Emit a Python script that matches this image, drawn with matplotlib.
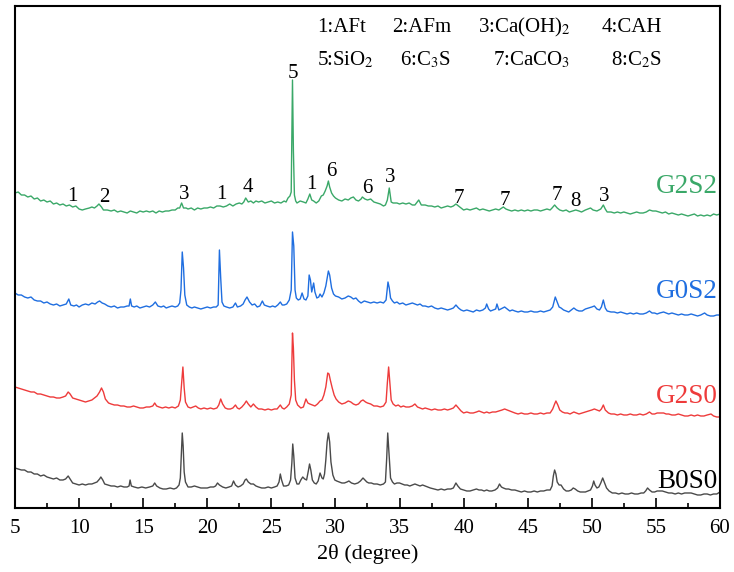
import matplotlib
matplotlib.use("Agg")
import matplotlib.pyplot as plt
from matplotlib.ticker import MultipleLocator

plt.rcParams['font.family'] = ['Liberation Serif', 'DejaVu Serif']
plt.rcParams['mathtext.fontset'] = 'stix'

# (2theta, stacked intensity a.u.)
g2s2 = [(5.0, 315), (5.25, 316), (5.5, 313), (5.75, 313), (6.0, 311), (6.25, 312), (6.5, 309),
        (6.75, 310), (7.0, 307), (7.25, 308), (7.5, 306), (7.75, 307), (8.0, 304), (8.25, 305),
        (8.5, 303), (8.75, 304), (9.0, 302), (9.25, 303), (9.5, 301), (9.75, 302), (10.0, 299),
        (10.25, 298), (10.5, 299), (10.8, 300), (11.0, 301), (11.2, 300), (11.4, 302), (11.55, 304),
        (11.75, 301), (11.9, 298), (12.2, 298), (12.5, 297), (12.75, 298), (13.0, 296), (13.25, 297),
        (13.5, 296), (13.75, 295), (14.0, 297), (14.25, 296), (14.5, 295), (14.75, 297), (15.0, 296),
        (15.25, 297), (15.5, 296), (15.75, 297), (16.0, 295), (16.25, 297), (16.5, 296), (16.75, 297),
        (17.0, 297), (17.25, 298), (17.5, 298), (17.7, 300), (17.85, 300), (18.0, 305), (18.15, 300),
        (18.35, 300), (18.5, 299), (18.75, 300), (19.0, 298), (19.25, 300), (19.5, 299), (19.75, 300),
        (20.0, 300), (20.25, 301), (20.5, 300), (20.75, 302), (21.0, 302), (21.25, 301), (21.5, 302),
        (21.75, 304), (22.0, 302), (22.25, 304), (22.5, 305), (22.7, 304), (22.85, 306), (23.0, 310),
        (23.2, 306), (23.4, 307), (23.6, 305), (23.8, 307), (24.0, 306), (24.25, 307), (24.5, 305),
        (24.75, 306), (25.0, 307), (25.25, 305), (25.5, 306), (25.75, 305), (26.0, 307), (26.15, 306),
        (26.3, 310), (26.45, 312), (26.55, 316), (26.65, 428), (26.72, 358), (26.8, 313), (26.9, 307),
        (27.0, 305), (27.25, 307), (27.5, 306), (27.7, 305), (27.85, 309), (28.0, 314), (28.15, 308),
        (28.3, 307), (28.5, 305), (28.7, 307), (28.9, 312), (29.05, 313), (29.2, 317), (29.35, 322),
        (29.45, 327), (29.55, 321), (29.7, 315), (29.85, 312), (30.0, 310), (30.25, 308), (30.5, 307),
        (30.75, 309), (31.0, 308), (31.2, 310), (31.4, 311), (31.6, 308), (31.8, 307), (32.0, 309),
        (32.1, 311), (32.3, 309), (32.5, 308), (32.75, 309), (33.0, 306), (33.25, 305), (33.5, 304),
        (33.75, 302), (33.9, 303), (34.05, 308), (34.2, 320), (34.35, 306), (34.5, 305), (34.8, 305),
        (35.0, 304), (35.25, 305), (35.5, 304), (35.75, 305), (36.0, 303), (36.2, 303), (36.5, 308),
        (36.7, 303), (37.0, 303), (37.25, 302), (37.5, 302), (37.75, 301), (38.0, 302), (38.25, 300),
        (38.5, 301), (38.75, 302), (39.0, 301), (39.2, 302), (39.4, 304), (39.6, 302), (39.8, 300),
        (40.0, 298), (40.25, 299), (40.5, 298), (40.75, 299), (41.0, 300), (41.25, 298), (41.5, 299),
        (41.75, 298), (42.0, 297), (42.25, 298), (42.5, 299), (42.75, 298), (43.1, 301), (43.3, 299),
        (43.5, 298), (43.75, 297), (44.0, 298), (44.25, 297), (44.5, 298), (44.75, 297), (45.0, 298),
        (45.25, 297), (45.5, 298), (45.75, 298), (46.0, 297), (46.25, 298), (46.5, 299), (46.75, 298),
        (46.9, 300), (47.1, 303), (47.3, 300), (47.5, 298), (47.75, 297), (48.0, 298), (48.25, 296),
        (48.5, 297), (48.75, 298), (49.0, 297), (49.2, 296), (49.5, 298), (49.7, 299), (49.9, 300),
        (50.1, 298), (50.4, 297), (50.7, 299), (50.9, 303), (51.05, 299), (51.2, 296), (51.5, 296),
        (51.75, 295), (52.0, 296), (52.25, 295), (52.5, 296), (52.75, 295), (53.0, 294), (53.25, 295),
        (53.5, 296), (53.75, 295), (54.0, 295), (54.25, 296), (54.5, 298), (54.75, 297), (55.0, 297),
        (55.25, 296), (55.5, 295), (55.75, 296), (56.0, 294), (56.25, 295), (56.5, 294), (56.75, 293),
        (57.0, 294), (57.25, 293), (57.5, 292), (57.75, 293), (58.0, 294), (58.25, 292), (58.5, 293),
        (58.75, 292), (59.0, 293), (59.25, 292), (59.5, 294), (59.75, 293), (60.0, 294)]

g0s2 = [(5.0, 215), (5.25, 213), (5.5, 213), (5.75, 211), (6.0, 210), (6.25, 211), (6.5, 208),
        (6.75, 207), (7.0, 207), (7.25, 205), (7.5, 206), (7.75, 204), (8.0, 203), (8.25, 204),
        (8.5, 202), (8.75, 203), (9.0, 204), (9.2, 209), (9.35, 203), (9.6, 202), (9.8, 203),
        (10.0, 201), (10.25, 203), (10.5, 204), (10.75, 203), (11.0, 205), (11.25, 204), (11.45, 206),
        (11.6, 207), (11.8, 205), (12.0, 204), (12.25, 202), (12.5, 201), (12.75, 202), (13.0, 200),
        (13.25, 201), (13.5, 201), (13.75, 202), (13.9, 202), (14.0, 209), (14.1, 202), (14.3, 201),
        (14.5, 202), (14.75, 200), (15.0, 201), (15.25, 202), (15.5, 201), (15.75, 203), (15.95, 206),
        (16.15, 202), (16.4, 201), (16.6, 202), (16.8, 200), (17.0, 201), (17.25, 202), (17.5, 201),
        (17.7, 202), (17.85, 205), (17.95, 218), (18.05, 256), (18.15, 240), (18.25, 213), (18.4, 203),
        (18.6, 201), (18.8, 200), (19.0, 201), (19.25, 200), (19.5, 199), (19.75, 200), (20.0, 201),
        (20.25, 200), (20.5, 201), (20.7, 201), (20.85, 203), (20.95, 258), (21.05, 230), (21.15, 206),
        (21.3, 202), (21.5, 201), (21.75, 200), (22.0, 201), (22.2, 205), (22.35, 201), (22.6, 202),
        (22.8, 204), (22.95, 208), (23.1, 211), (23.3, 206), (23.5, 203), (23.7, 204), (23.9, 201),
        (24.1, 202), (24.3, 207), (24.45, 203), (24.65, 202), (24.9, 201), (25.1, 202), (25.3, 201),
        (25.5, 203), (25.7, 206), (25.85, 203), (26.0, 203), (26.2, 204), (26.4, 208), (26.55, 218),
        (26.65, 276), (26.75, 262), (26.85, 218), (26.95, 210), (27.1, 208), (27.25, 209), (27.4, 215),
        (27.55, 209), (27.7, 208), (27.85, 212), (27.95, 233), (28.05, 228), (28.15, 216), (28.3, 225),
        (28.4, 216), (28.55, 210), (28.7, 211), (28.8, 214), (28.95, 211), (29.1, 215), (29.25, 222),
        (29.45, 237), (29.55, 233), (29.7, 220), (29.85, 214), (30.0, 212), (30.25, 211), (30.5, 209),
        (30.75, 210), (31.0, 212), (31.2, 211), (31.4, 209), (31.6, 210), (31.8, 207), (32.0, 205),
        (32.25, 207), (32.5, 206), (32.75, 205), (33.0, 206), (33.25, 205), (33.5, 206), (33.75, 205),
        (33.95, 208), (34.1, 226), (34.2, 220), (34.3, 210), (34.45, 207), (34.6, 205), (34.8, 206),
        (35.0, 204), (35.25, 205), (35.5, 203), (35.75, 204), (36.0, 205), (36.2, 204), (36.4, 203),
        (36.6, 204), (36.8, 202), (37.0, 202), (37.25, 201), (37.5, 202), (37.75, 200), (38.0, 199),
        (38.25, 200), (38.5, 199), (38.75, 198), (39.0, 199), (39.2, 200), (39.4, 203), (39.6, 200),
        (39.8, 198), (40.0, 197), (40.25, 198), (40.5, 197), (40.75, 196), (41.0, 198), (41.25, 197),
        (41.5, 198), (41.7, 200), (41.8, 204), (41.95, 199), (42.1, 197), (42.3, 198), (42.5, 199),
        (42.6, 204), (42.75, 198), (42.9, 199), (43.05, 200), (43.2, 201), (43.4, 199), (43.6, 197),
        (43.8, 198), (44.0, 197), (44.25, 196), (44.5, 197), (44.75, 196), (45.0, 196), (45.25, 197),
        (45.5, 196), (45.75, 196), (46.0, 197), (46.25, 196), (46.5, 197), (46.75, 198), (46.95, 201),
        (47.15, 211), (47.3, 206), (47.45, 201), (47.6, 200), (47.8, 198), (48.0, 197), (48.2, 196),
        (48.4, 198), (48.6, 200), (48.8, 198), (49.0, 197), (49.25, 197), (49.5, 199), (49.75, 200),
        (50.0, 201), (50.2, 202), (50.4, 199), (50.6, 198), (50.75, 201), (50.9, 208), (51.05, 200),
        (51.2, 197), (51.5, 196), (51.75, 196), (52.0, 195), (52.25, 196), (52.5, 195), (52.75, 194),
        (53.0, 195), (53.25, 194), (53.5, 195), (53.75, 194), (54.0, 194), (54.25, 195), (54.5, 197),
        (54.7, 195), (54.9, 195), (55.1, 194), (55.3, 195), (55.6, 196), (55.8, 195), (56.0, 194),
        (56.25, 195), (56.5, 194), (56.75, 193), (57.0, 194), (57.25, 193), (57.5, 193), (57.75, 194),
        (58.0, 193), (58.25, 192), (58.5, 193), (58.8, 195), (59.0, 193), (59.25, 192), (59.5, 192),
        (59.75, 193), (60.0, 193)]

g2s0 = [(5.0, 121), (5.25, 120), (5.5, 119), (5.75, 118), (6.0, 117), (6.25, 116), (6.5, 116),
        (6.75, 114), (7.0, 114), (7.25, 113), (7.5, 112), (7.75, 111), (8.0, 111), (8.25, 110),
        (8.5, 110), (8.75, 111), (8.95, 112), (9.15, 116), (9.3, 114), (9.5, 110), (9.75, 109),
        (10.0, 108), (10.25, 107), (10.5, 106), (10.75, 107), (11.0, 108), (11.2, 110), (11.4, 112),
        (11.6, 116), (11.75, 120), (11.9, 116), (12.05, 109), (12.3, 105), (12.5, 104), (12.75, 103),
        (13.0, 103), (13.25, 102), (13.5, 102), (13.75, 101), (14.0, 101), (14.25, 102), (14.5, 101),
        (14.75, 100), (15.0, 100), (15.25, 101), (15.5, 101), (15.75, 102), (15.9, 105), (16.05, 102),
        (16.25, 101), (16.5, 100), (16.75, 101), (17.0, 100), (17.25, 101), (17.5, 100), (17.75, 102),
        (17.9, 108), (18.0, 125), (18.1, 141), (18.2, 120), (18.3, 106), (18.5, 101), (18.7, 100),
        (18.9, 101), (19.1, 102), (19.3, 100), (19.5, 99), (19.75, 100), (20.0, 99), (20.25, 100),
        (20.5, 99), (20.75, 100), (20.9, 103), (21.05, 109), (21.2, 104), (21.4, 100), (21.6, 99),
        (21.8, 99), (22.0, 100), (22.2, 103), (22.35, 100), (22.5, 99), (22.7, 101), (22.9, 104),
        (23.05, 107), (23.2, 104), (23.4, 101), (23.6, 104), (23.8, 101), (24.0, 99), (24.25, 99),
        (24.5, 98), (24.75, 99), (25.0, 98), (25.25, 99), (25.45, 99), (25.7, 103), (25.85, 100),
        (26.0, 99), (26.2, 101), (26.4, 104), (26.55, 113), (26.65, 175), (26.72, 160), (26.8, 128),
        (26.9, 108), (27.05, 103), (27.3, 100), (27.5, 101), (27.7, 109), (27.85, 105), (28.0, 104),
        (28.2, 103), (28.4, 102), (28.6, 104), (28.8, 107), (28.95, 108), (29.1, 113), (29.25, 121),
        (29.4, 135), (29.5, 134), (29.6, 128), (29.75, 120), (29.9, 113), (30.05, 109), (30.25, 106),
        (30.5, 104), (30.75, 105), (31.0, 107), (31.2, 106), (31.4, 104), (31.6, 103), (31.8, 104),
        (32.0, 107), (32.15, 108), (32.35, 106), (32.5, 105), (32.75, 104), (33.0, 102), (33.25, 102),
        (33.5, 101), (33.75, 102), (33.95, 106), (34.05, 125), (34.15, 141), (34.25, 125), (34.35, 108),
        (34.5, 104), (34.7, 102), (34.9, 103), (35.1, 101), (35.3, 102), (35.5, 101), (35.75, 101),
        (36.0, 102), (36.2, 104), (36.4, 101), (36.6, 100), (36.8, 99), (37.0, 100), (37.25, 99),
        (37.5, 98), (37.75, 99), (38.0, 98), (38.25, 98), (38.5, 99), (38.75, 98), (39.0, 99),
        (39.2, 100), (39.4, 103), (39.6, 100), (39.8, 97), (40.0, 95), (40.25, 96), (40.5, 95),
        (40.75, 95), (41.0, 96), (41.2, 97), (41.4, 96), (41.6, 95), (41.8, 96), (42.0, 95),
        (42.25, 96), (42.5, 96), (42.75, 97), (43.0, 98), (43.2, 99), (43.4, 98), (43.6, 97),
        (43.8, 96), (44.0, 95), (44.25, 94), (44.5, 95), (44.75, 94), (45.0, 94), (45.25, 95),
        (45.5, 94), (45.75, 94), (46.0, 95), (46.25, 94), (46.5, 95), (46.75, 95), (46.95, 99),
        (47.1, 104), (47.2, 107), (47.35, 103), (47.5, 98), (47.7, 96), (47.9, 95), (48.1, 95),
        (48.3, 94), (48.6, 96), (48.8, 95), (49.0, 94), (49.25, 95), (49.5, 96), (49.75, 97),
        (50.0, 98), (50.2, 99), (50.4, 98), (50.6, 97), (50.75, 99), (50.9, 103), (51.05, 98),
        (51.3, 95), (51.5, 94), (51.75, 94), (52.0, 93), (52.25, 94), (52.5, 93), (52.75, 93),
        (53.0, 94), (53.25, 93), (53.5, 93), (53.75, 94), (54.0, 93), (54.25, 94), (54.5, 96),
        (54.7, 94), (54.9, 94), (55.1, 95), (55.3, 95), (55.6, 95), (55.8, 94), (56.0, 94),
        (56.25, 93), (56.5, 93), (56.75, 94), (57.0, 93), (57.25, 92), (57.5, 92), (57.75, 93),
        (58.0, 92), (58.25, 93), (58.5, 92), (58.75, 92), (59.0, 93), (59.3, 94), (59.5, 92),
        (59.75, 91), (60.0, 91)]

b0s0 = [(5.0, 40), (5.25, 39), (5.5, 38), (5.75, 38), (6.0, 36), (6.25, 36), (6.5, 34), (6.75, 34),
        (7.0, 32), (7.25, 33), (7.5, 31), (7.75, 30), (8.0, 29), (8.25, 30), (8.5, 28), (8.75, 28),
        (8.95, 29), (9.15, 32), (9.3, 29), (9.5, 25), (9.75, 24), (10.0, 23), (10.25, 24), (10.5, 23),
        (10.75, 24), (11.0, 24), (11.2, 25), (11.4, 26), (11.6, 29), (11.7, 31), (11.85, 28), (12.0, 24),
        (12.25, 23), (12.5, 22), (12.75, 22), (13.0, 21), (13.25, 22), (13.5, 21), (13.75, 21),
        (13.9, 22), (13.98, 28), (14.08, 22), (14.3, 21), (14.6, 20), (14.9, 21), (15.2, 20),
        (15.5, 21), (15.75, 22), (15.9, 25), (16.05, 22), (16.3, 20), (16.55, 19), (16.8, 19),
        (17.1, 20), (17.4, 19), (17.6, 20), (17.8, 23), (17.9, 30), (18.0, 60), (18.05, 75),
        (18.12, 62), (18.2, 36), (18.3, 26), (18.5, 21), (18.75, 21), (19.0, 22), (19.25, 21),
        (19.5, 20), (19.75, 20), (20.0, 20), (20.25, 21), (20.5, 21), (20.65, 22), (20.8, 25),
        (20.95, 23), (21.2, 21), (21.45, 20), (21.7, 21), (21.9, 22), (22.05, 27), (22.2, 23),
        (22.4, 21), (22.6, 22), (22.8, 24), (22.95, 28), (23.05, 29), (23.2, 26), (23.4, 24),
        (23.6, 24), (23.8, 22), (24.0, 21), (24.25, 20), (24.5, 20), (24.75, 21), (25.0, 20),
        (25.25, 21), (25.45, 22), (25.6, 26), (25.7, 34), (25.8, 28), (25.95, 22), (26.15, 22),
        (26.35, 23), (26.5, 28), (26.6, 45), (26.67, 64), (26.75, 52), (26.85, 30), (27.0, 24),
        (27.15, 24), (27.3, 28), (27.45, 31), (27.6, 29), (27.75, 28), (27.9, 38), (27.98, 44),
        (28.08, 38), (28.2, 28), (28.35, 25), (28.5, 24), (28.65, 27), (28.8, 35), (28.95, 30),
        (29.05, 29), (29.15, 34), (29.25, 48), (29.35, 66), (29.45, 75), (29.55, 66), (29.65, 46),
        (29.8, 33), (29.95, 28), (30.1, 27), (30.3, 26), (30.5, 25), (30.7, 25), (30.9, 26),
        (31.05, 27), (31.25, 25), (31.5, 24), (31.75, 25), (31.95, 27), (32.15, 30), (32.3, 28),
        (32.45, 26), (32.6, 25), (32.8, 25), (33.0, 24), (33.25, 24), (33.5, 23), (33.75, 24),
        (33.9, 26), (34.0, 50), (34.08, 75), (34.18, 55), (34.3, 30), (34.45, 26), (34.6, 24),
        (34.8, 25), (35.0, 25), (35.2, 24), (35.4, 23), (35.6, 23), (35.8, 22), (36.0, 23),
        (36.2, 24), (36.4, 23), (36.6, 22), (36.8, 23), (37.0, 22), (37.2, 21), (37.4, 20),
        (37.7, 19), (38.0, 18), (38.25, 19), (38.5, 18), (38.75, 19), (39.0, 19), (39.2, 20),
        (39.4, 25), (39.55, 22), (39.75, 19), (40.0, 18), (40.25, 17), (40.5, 17), (40.75, 18),
        (41.0, 19), (41.2, 18), (41.4, 18), (41.6, 17), (41.8, 18), (42.0, 17), (42.2, 17),
        (42.45, 18), (42.65, 20), (42.8, 24), (42.95, 21), (43.1, 20), (43.3, 19), (43.5, 19),
        (43.75, 18), (44.0, 18), (44.25, 17), (44.5, 16), (44.75, 17), (45.0, 16), (45.25, 16),
        (45.5, 17), (45.75, 16), (46.0, 17), (46.25, 17), (46.5, 18), (46.75, 18), (46.9, 22),
        (47.0, 32), (47.1, 38), (47.2, 34), (47.3, 26), (47.45, 23), (47.6, 23), (47.8, 19),
        (48.0, 17), (48.2, 17), (48.4, 18), (48.55, 20), (48.7, 19), (48.9, 17), (49.1, 16),
        (49.3, 16), (49.5, 16), (49.7, 17), (49.9, 18), (50.05, 22), (50.15, 27), (50.25, 23),
        (50.4, 20), (50.55, 21), (50.7, 25), (50.85, 30), (51.0, 25), (51.15, 20), (51.35, 17),
        (51.6, 15), (51.85, 15), (52.1, 14), (52.35, 15), (52.6, 14), (52.85, 14), (53.1, 15),
        (53.35, 14), (53.6, 14), (53.85, 15), (54.05, 15), (54.2, 17), (54.35, 20), (54.5, 18),
        (54.7, 16), (54.9, 16), (55.1, 17), (55.3, 17), (55.5, 17), (55.75, 16), (56.0, 15),
        (56.25, 15), (56.5, 14), (56.75, 15), (57.0, 14), (57.25, 15), (57.5, 15), (57.75, 15),
        (58.0, 14), (58.25, 13), (58.5, 13), (58.75, 14), (59.0, 14), (59.25, 13), (59.5, 14),
        (59.75, 14), (60.0, 16)]

samples = ['B0S0', 'G2S0', 'G0S2', 'G2S2']
label_y = [26, 111, 216, 322]

phases = [['1:AFt', '2:AFm', '3:Ca(OH)$_2$', '4:CAH'],
          ['5:SiO$_2$', '6:C$_3$S', '7:CaCO$_3$', '8:C$_2$S']]
phase_x = [[28.55, 34.45, 41.1, 50.8],
           [28.55, 35.0, 42.3, 51.5]]
phase_y = [481, 448]

peak_num = ['1', '2', '3', '1', '4', '5', '1', '6', '6', '3', '7', '7', '7', '8', '3']
peak_x = [9.45, 11.94, 18.18, 21.07, 23.17, 26.68, 28.09, 29.65, 32.46, 34.25,
          39.63, 43.22, 47.28, 48.76, 50.94]
peak_y = [312, 311, 314, 314, 321, 435, 324, 337, 320, 331, 310, 308, 313, 307, 312]

colors = ['#4a4a4a', '#ee3b3b', '#1f6ee0', '#3aa868']
label_colors = ['black', '#ee3b3b', '#1f6ee0', '#3aa868']

fig = plt.figure(figsize=(7.34, 5.72), dpi=100)
ax = fig.add_axes([0.0204, 0.1119, 0.9605, 0.8776])

for data, c in zip([b0s0, g2s0, g0s2, g2s2], colors):
    xs, ys = zip(*data)
    ax.plot(xs, ys, color=c, lw=1.0)

for name, ly, c in zip(samples, label_y, label_colors):
    ax.text(59.8, ly, name, color=c, fontsize=19.5, ha='right', va='center')

for row, xs, py in zip(phases, phase_x, phase_y):
    for txt, px in zip(row, xs):
        ax.text(px, py, txt, fontsize=15, ha='left', va='center')

for t, px, py in zip(peak_num, peak_x, peak_y):
    ax.text(px, py, t, fontsize=15, ha='center', va='center')

ax.set_xlim(5, 60)
ax.set_ylim(0, 502)
ax.set_yticks([])
ax.xaxis.set_major_locator(MultipleLocator(5))
ax.xaxis.set_minor_locator(MultipleLocator(2.5))
ax.tick_params(axis='x', which='major', direction='in', length=7, width=1.2, labelsize=15, pad=8)
ax.tick_params(axis='x', which='minor', direction='in', length=3.5, width=1.2)
for s in ax.spines.values():
    s.set_linewidth(1.5)
ax.set_xlabel('2θ (degree)', fontsize=16, labelpad=4)

fig.savefig('out.png', dpi=100)
